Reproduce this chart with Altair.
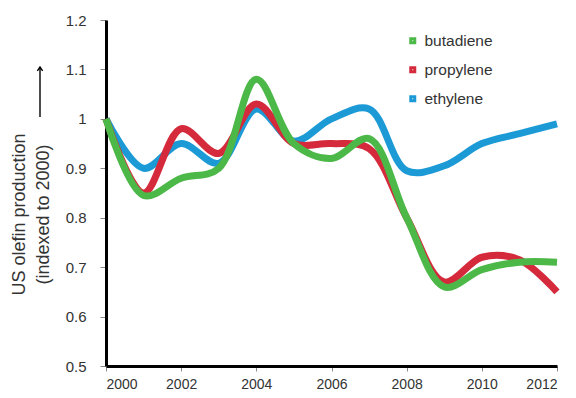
import altair as alt
import pandas as pd

years = list(range(2000, 2013))
butadiene = [1.00, 0.845, 0.88, 0.90, 1.08, 0.95, 0.92, 0.96, 0.80, 0.66, 0.695, 0.71, 0.71]
propylene = [1.00, 0.85, 0.98, 0.93, 1.03, 0.95, 0.95, 0.94, 0.80, 0.67, 0.72, 0.715, 0.65]
ethylene = [1.00, 0.90, 0.95, 0.91, 1.02, 0.955, 1.00, 1.02, 0.895, 0.905, 0.95, 0.97, 0.99]

series_names = ["butadiene", "propylene", "ethylene"]
series_colors = ["#4cb848", "#d42a3c", "#1c9ad6"]
x_ticks = [2000, 2002, 2004, 2006, 2008, 2010, 2012]
y_ticks = [0.5, 0.6, 0.7, 0.8, 0.9, 1.0, 1.1, 1.2]

rows = []
for name, vals in zip(series_names, [butadiene, propylene, ethylene]):
    for yr, v in zip(years, vals):
        rows.append({"year": yr, "value": v, "series": name})
df = pd.DataFrame(rows)

FONT = "Liberation Sans"

x_enc = alt.X("year:Q", scale=alt.Scale(domain=[2000, 2012], nice=False, zero=False),
              axis=alt.Axis(values=x_ticks, format="d", title=None))
y_enc = alt.Y("value:Q", scale=alt.Scale(domain=[0.5, 1.2], nice=False, zero=False),
              axis=alt.Axis(values=y_ticks, format="~g",
                            title=["US olefin production", "(indexed to 2000)"],
                            titleAngle=270, titleX=-87, titleY=194,
                            titleAlign="center", titleBaseline="middle",
                            titleFontSize=18, titleFontWeight="normal",
                            titleLineHeight=24, titleColor="#333333", titleFont=FONT))
color_enc = alt.Color("series:N",
                      scale=alt.Scale(domain=series_names, range=series_colors),
                      legend=alt.Legend(title=None, orient="none", legendX=299, legendY=13,
                                        symbolType="square", symbolSize=16,
                                        symbolStrokeWidth=3, labelFontSize=15.5,
                                        labelFont=FONT, labelColor="#333333",
                                        labelOffset=4, rowPadding=11, padding=0))

layers = []
for name in ["ethylene", "propylene", "butadiene"]:
    layers.append(
        alt.Chart(df).transform_filter(alt.datum.series == name)
        .mark_line(strokeWidth=7, interpolate="catmull-rom", strokeCap="butt")
        .encode(x=x_enc, y=y_enc, color=color_enc)
    )

arrow_line = alt.Chart(pd.DataFrame({"a": [0]})).mark_rule(color="black", strokeWidth=1.4).encode(
    x=alt.value(-66), y=alt.value(48), y2=alt.value(97))
arrow_head = alt.Chart(pd.DataFrame({"a": [0]})).mark_point(
    shape="M -0.5 0.75 L 0 0 L 0.5 0.75", size=110, filled=False, color="black",
    strokeWidth=1.4, opacity=1).encode(x=alt.value(-66), y=alt.value(47))

chart = alt.layer(*layers, arrow_line, arrow_head).properties(
    width=451, height=346,
    autosize=alt.AutoSizeParams(type="none"),
    padding={"left": 98, "top": 12, "right": 10, "bottom": 24},
).configure_view(stroke=None).configure_axis(
    grid=False, domainColor="black", domainWidth=3,
    tickColor="#888888", tickWidth=1,
    labelFont=FONT, labelColor="#333333",
).configure_axisX(
    tickSize=5, labelFontSize=14, labelPadding=6,
).configure_axisY(
    tickSize=6, labelFontSize=15, labelPadding=14,
)

chart.save("out.html", embed_options={"renderer": "svg", "actions": False})
